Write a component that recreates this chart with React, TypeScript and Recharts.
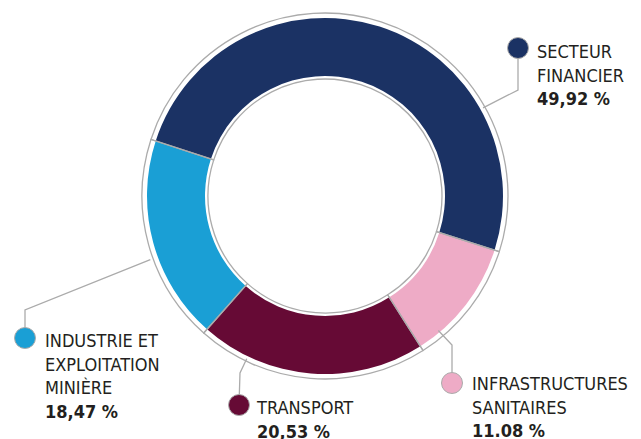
import { PieChart, Pie, Cell } from 'recharts';

const SECTORS = ['SECTEUR FINANCIER', 'INFRASTRUCTURES SANITAIRES', 'TRANSPORT', 'INDUSTRIE ET EXPLOITATION MINIÈRE'];
const SHARES = [49.92, 11.08, 20.53, 18.47];
const SHARE_LABELS = ['49,92 %', '11.08 %', '20,53 %', '18,47 %'];
const LABEL_LINES = [['SECTEUR', 'FINANCIER'], ['INFRASTRUCTURES', 'SANITAIRES'], ['TRANSPORT'], ['INDUSTRIE ET', 'EXPLOITATION', 'MINIÈRE']];

const COLORS = ['#1b3264', '#eeabc6', '#660a35', '#1a9fd5'];
const RING = '#ababab';
const FONT = '"Liberation Sans Narrow", "DejaVu Sans Condensed", "Roboto", sans-serif';

const CX = 320;
const CY = 191;
const OUTER_RING = 183;

// leader line: angle where it leaves the ring, elbow point, dot centre
const LAYOUT = [
    { angle: 27, elbow: [518, 90], dot: [518, 48], textX: 537, textY: 58 },
    { angle: -49.7, elbow: [452, 345], dot: [452, 383], textX: 472, textY: 390 },
    { angle: 246.4, elbow: [240, 373], dot: [239, 405], textX: 257, textY: 414 },
    { angle: 202, elbow: [25, 310], dot: [25, 338], textX: 45, textY: 347 },
];

const data = SECTORS.map((name, i) => ({ name, value: SHARES[i] }));

const renderLabel = (props: any) => {
    const i = props.index;
    const l = LAYOUT[i];
    const rad = (l.angle * Math.PI) / 180;
    const sx = CX + OUTER_RING * Math.cos(rad);
    const sy = CY - OUTER_RING * Math.sin(rad);
    const lines = LABEL_LINES[i];
    return (
        <g key={`lbl-${i}`}>
            <polyline
                points={`${sx},${sy} ${l.elbow[0]},${l.elbow[1]} ${l.dot[0]},${l.dot[1]}`}
                fill="none"
                stroke={RING}
                strokeWidth={1.3}
            />
            <circle cx={l.dot[0]} cy={l.dot[1]} r={10.5} fill={COLORS[i]} stroke={RING} strokeWidth={1} />
            <text x={l.textX} y={l.textY} fontFamily={FONT} fontSize={18} fill="#231f20">
                {lines.map((t, k) => (
                    <tspan key={k} x={l.textX} dy={k === 0 ? 0 : 23.5}>{t}</tspan>
                ))}
                <tspan x={l.textX} dy={23.5} fontWeight="bold">{SHARE_LABELS[i]}</tspan>
            </text>
        </g>
    );
};

const App = () => {
    return (
        <div style={{ position: 'absolute', left: 0, top: 0 }}>
            <PieChart width={641} height={439}>
                <Pie
                    data={data}
                    dataKey="value"
                    nameKey="name"
                    cx={CX}
                    cy={CY}
                    innerRadius={120}
                    outerRadius={178}
                    startAngle={162}
                    endAngle={-198}
                    stroke="none"
                    isAnimationActive={false}
                >
                    {data.map((_, i) => (
                        <Cell key={i} fill={COLORS[i]} />
                    ))}
                </Pie>
                <Pie
                    data={data}
                    dataKey="value"
                    nameKey="name"
                    cx={CX}
                    cy={CY}
                    innerRadius={117}
                    outerRadius={OUTER_RING}
                    startAngle={162}
                    endAngle={-198}
                    fill="none"
                    stroke={RING}
                    strokeWidth={1.3}
                    label={renderLabel}
                    labelLine={false}
                    isAnimationActive={false}
                >
                    {data.map((_, i) => (
                        <Cell key={i} fill="none" />
                    ))}
                </Pie>
            </PieChart>
        </div>
    );
};

export default App;
